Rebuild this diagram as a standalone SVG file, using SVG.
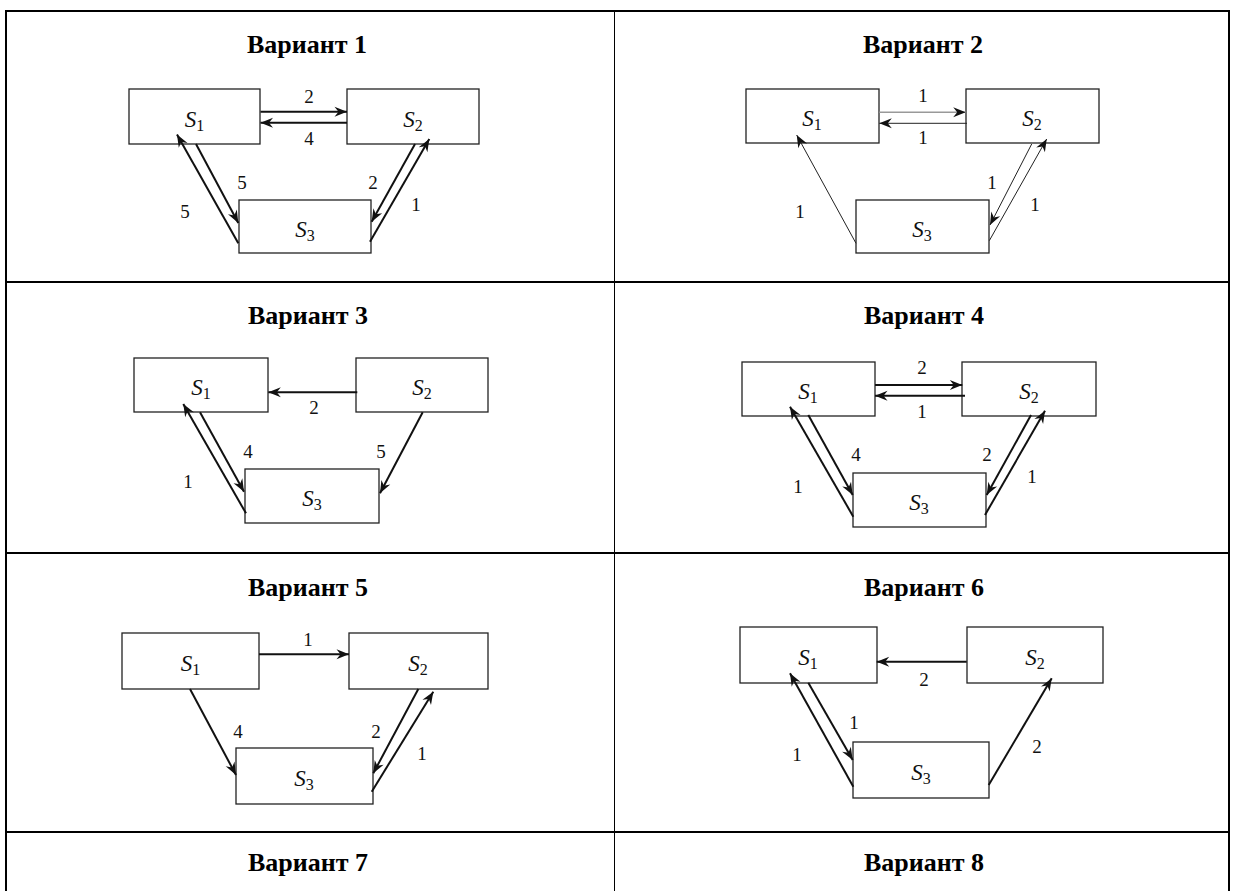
<svg xmlns="http://www.w3.org/2000/svg" width="1235" height="891" viewBox="0 0 1235 891">
<style>
.grid{stroke:#000;stroke-width:2;fill:none}
.thin{stroke:#000;stroke-width:1;fill:none}
.box{fill:#fff;stroke:#222;stroke-width:1.3}
.title{font-family:'Liberation Serif',serif;font-weight:bold;font-size:26px;text-anchor:middle;fill:#000}
.s{font-family:'Liberation Serif',serif;font-style:italic;font-size:23px;text-anchor:middle;fill:#111}
.sub{font-style:normal;font-size:16px}
.num{font-family:'Liberation Serif',serif;font-size:19px;text-anchor:middle;fill:#111}
.a{stroke:#111;stroke-width:2;fill:none;marker-end:url(#ah)}
.at{stroke:#222;stroke-width:1;fill:none;marker-end:url(#ah)}
.ag{stroke:#999;stroke-width:1.6;fill:none;marker-end:url(#ah)}
</style>
<defs>
<marker id="ah" markerUnits="userSpaceOnUse" markerWidth="16" markerHeight="14" viewBox="-14 -7 16 14" refX="0" refY="0" orient="auto">
<path d="M0,0 L-12.5,-5 L-8.5,0 L-12.5,5 Z" fill="#111"/>
</marker>
</defs>
<rect width="1235" height="891" fill="#fff"/>
<g id="table">
<line class="grid" x1="6" y1="11" x2="1229" y2="11"/>
<line class="grid" x1="6" y1="10" x2="6" y2="891"/>
<line class="grid" x1="1229" y1="10" x2="1229" y2="891"/>
<line class="thin" x1="614.5" y1="11" x2="614.5" y2="891"/>
<line class="grid" x1="6" y1="282" x2="1229" y2="282"/>
<line class="grid" x1="6" y1="553" x2="1229" y2="553"/>
<line class="grid" x1="6" y1="832" x2="1229" y2="832"/>
</g>
<g id="titles">
<text class="title" x="307" y="53">Вариант 1</text>
<text class="title" x="923" y="53">Вариант 2</text>
<text class="title" x="308" y="324">Вариант 3</text>
<text class="title" x="924" y="324">Вариант 4</text>
<text class="title" x="308" y="596">Вариант 5</text>
<text class="title" x="924" y="596">Вариант 6</text>
<text class="title" x="308" y="871">Вариант 7</text>
<text class="title" x="924" y="871">Вариант 8</text>
</g>
<!-- Variant 1 -->
<g id="v1-s1"><rect class="box" x="129" y="89" width="131" height="55"/><text class="s" x="194.5" y="126.5">S<tspan class="sub" dy="4">1</tspan></text></g>
<g id="v1-s2"><rect class="box" x="347" y="89" width="132" height="55"/><text class="s" x="413" y="126.5">S<tspan class="sub" dy="4">2</tspan></text></g>
<g id="v1-s3"><rect class="box" x="239" y="200" width="132" height="53"/><text class="s" x="305" y="236.5">S<tspan class="sub" dy="4">3</tspan></text></g>
<!-- Variant 2 -->
<g id="v2-s1"><rect class="box" x="746" y="89" width="133" height="54"/><text class="s" x="812" y="126">S<tspan class="sub" dy="4">1</tspan></text></g>
<g id="v2-s2"><rect class="box" x="966" y="89" width="133" height="54"/><text class="s" x="1032" y="126">S<tspan class="sub" dy="4">2</tspan></text></g>
<g id="v2-s3"><rect class="box" x="856" y="200" width="133" height="53"/><text class="s" x="922" y="236.5">S<tspan class="sub" dy="4">3</tspan></text></g>
<!-- Variant 3 -->
<g id="v3-s1"><rect class="box" x="134" y="358" width="134" height="54"/><text class="s" x="201" y="395">S<tspan class="sub" dy="4">1</tspan></text></g>
<g id="v3-s2"><rect class="box" x="356" y="358" width="132" height="54"/><text class="s" x="422" y="395">S<tspan class="sub" dy="4">2</tspan></text></g>
<g id="v3-s3"><rect class="box" x="245" y="469" width="134" height="54"/><text class="s" x="312" y="506">S<tspan class="sub" dy="4">3</tspan></text></g>
<!-- Variant 4 -->
<g id="v4-s1"><rect class="box" x="742" y="362" width="133" height="54"/><text class="s" x="808" y="399">S<tspan class="sub" dy="4">1</tspan></text></g>
<g id="v4-s2"><rect class="box" x="962" y="362" width="134" height="54"/><text class="s" x="1029" y="399">S<tspan class="sub" dy="4">2</tspan></text></g>
<g id="v4-s3"><rect class="box" x="853" y="473" width="133" height="54"/><text class="s" x="919" y="510">S<tspan class="sub" dy="4">3</tspan></text></g>
<!-- Variant 5 -->
<g id="v5-s1"><rect class="box" x="122" y="633" width="137" height="56"/><text class="s" x="190.5" y="671">S<tspan class="sub" dy="4">1</tspan></text></g>
<g id="v5-s2"><rect class="box" x="349" y="633" width="139" height="56"/><text class="s" x="418" y="671">S<tspan class="sub" dy="4">2</tspan></text></g>
<g id="v5-s3"><rect class="box" x="236" y="748" width="137" height="56"/><text class="s" x="304" y="786">S<tspan class="sub" dy="4">3</tspan></text></g>
<!-- Variant 6 -->
<g id="v6-s1"><rect class="box" x="740" y="627" width="137" height="56"/><text class="s" x="808" y="665">S<tspan class="sub" dy="4">1</tspan></text></g>
<g id="v6-s2"><rect class="box" x="967" y="627" width="136" height="56"/><text class="s" x="1035" y="665">S<tspan class="sub" dy="4">2</tspan></text></g>
<g id="v6-s3"><rect class="box" x="853" y="742" width="136" height="56"/><text class="s" x="921" y="780">S<tspan class="sub" dy="4">3</tspan></text></g>
<g id="connectors">
<!-- V1 -->
<line class="a" x1="260.5" y1="111.7" x2="347" y2="111.7"/>
<line class="a" x1="347" y1="122.7" x2="260.5" y2="122.7"/>
<line class="a" x1="196" y1="144" x2="238.3" y2="223"/>
<line class="a" x1="238.3" y1="243.3" x2="177" y2="134.5"/>
<line class="a" x1="415" y1="144" x2="371.7" y2="221.7"/>
<line class="a" x1="370" y1="241.7" x2="429.3" y2="139"/>
<!-- V2 -->
<line class="ag" x1="879.3" y1="112.3" x2="965.7" y2="112.3"/>
<line class="at" x1="967" y1="123.3" x2="879.3" y2="123.3"/>
<line class="at" x1="856" y1="243.3" x2="796.7" y2="135"/>
<line class="at" x1="1031.7" y1="144" x2="990" y2="225"/>
<line class="at" x1="989.3" y1="240.7" x2="1046.7" y2="139"/>
<!-- V3 -->
<line class="a" x1="357.3" y1="392.3" x2="268.3" y2="392.3"/>
<line class="a" x1="200" y1="412.3" x2="244" y2="491.7"/>
<line class="a" x1="246" y1="513.3" x2="183.3" y2="404"/>
<line class="a" x1="422.7" y1="412.3" x2="380" y2="493.3"/>
<!-- V4 -->
<line class="a" x1="875" y1="385" x2="962.3" y2="385"/>
<line class="a" x1="965" y1="395.7" x2="875" y2="395.7"/>
<line class="a" x1="808.3" y1="415" x2="852.7" y2="495"/>
<line class="a" x1="853.3" y1="516.7" x2="790" y2="406.7"/>
<line class="a" x1="1031" y1="415" x2="986.7" y2="495"/>
<line class="a" x1="985" y1="515" x2="1045" y2="410.7"/>
<!-- V5 -->
<line class="a" x1="259" y1="654.3" x2="349" y2="654.3"/>
<line class="a" x1="190" y1="689" x2="236" y2="775"/>
<line class="a" x1="418.3" y1="689" x2="373.3" y2="773.3"/>
<line class="a" x1="371.7" y1="791.7" x2="433.3" y2="691.7"/>
<!-- V6 -->
<line class="a" x1="966.7" y1="661.7" x2="876.7" y2="661.7"/>
<line class="a" x1="808.3" y1="682.7" x2="852.7" y2="760"/>
<line class="a" x1="853.3" y1="786.7" x2="790" y2="673.3"/>
<line class="a" x1="988.7" y1="785" x2="1051.7" y2="678.3"/>
</g>
<g id="labels">
<text class="num" x="309" y="103">2</text>
<text class="num" x="309" y="145">4</text>
<text class="num" x="242" y="189">5</text>
<text class="num" x="185" y="218">5</text>
<text class="num" x="373" y="189">2</text>
<text class="num" x="416" y="211">1</text>
<text class="num" x="923" y="102">1</text>
<text class="num" x="923" y="144">1</text>
<text class="num" x="800" y="218">1</text>
<text class="num" x="992" y="189">1</text>
<text class="num" x="1035" y="211">1</text>
<text class="num" x="314" y="414">2</text>
<text class="num" x="248" y="458">4</text>
<text class="num" x="188" y="488">1</text>
<text class="num" x="381" y="458">5</text>
<text class="num" x="922" y="374">2</text>
<text class="num" x="922" y="418">1</text>
<text class="num" x="856" y="461">4</text>
<text class="num" x="798" y="493">1</text>
<text class="num" x="987" y="461">2</text>
<text class="num" x="1032" y="483">1</text>
<text class="num" x="308" y="646">1</text>
<text class="num" x="238" y="738">4</text>
<text class="num" x="376" y="738">2</text>
<text class="num" x="422" y="760">1</text>
<text class="num" x="924" y="686">2</text>
<text class="num" x="854" y="729">1</text>
<text class="num" x="797" y="761">1</text>
<text class="num" x="1037" y="753">2</text>
</g>
</svg>
